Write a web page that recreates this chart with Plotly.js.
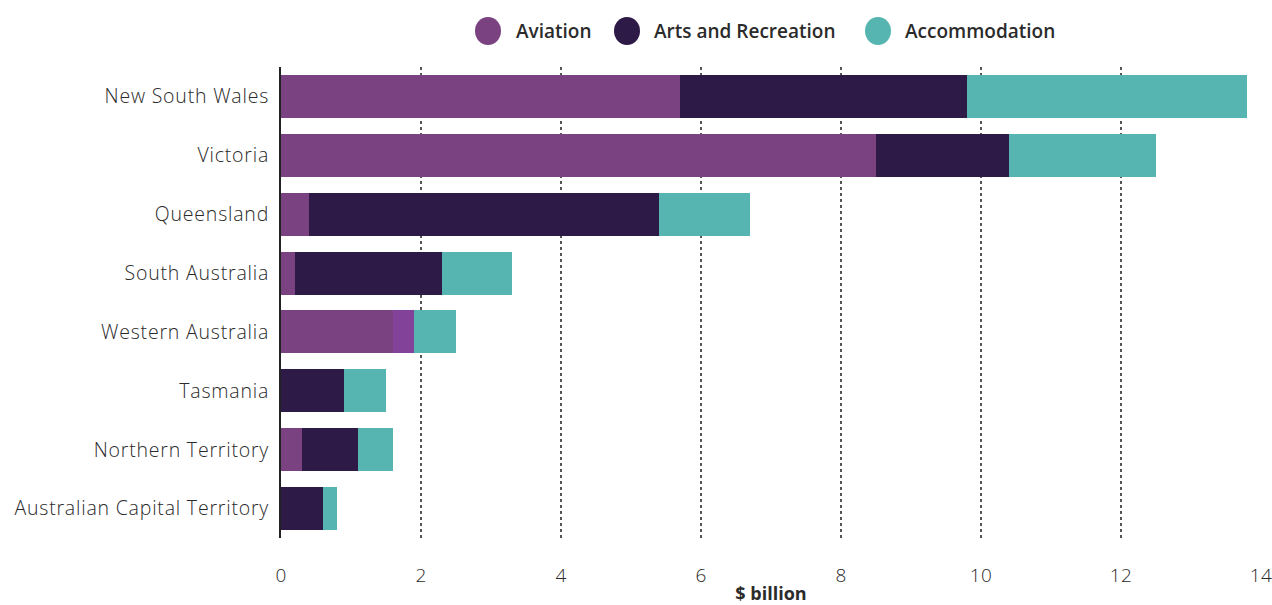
<!DOCTYPE html>
<html>
<head>
<meta charset="utf-8">
<script src="https://cdn.plot.ly/plotly-3.0.1.min.js"></script>
<style>html,body{margin:0;padding:0;background:#fff;}#chart{width:1272px;height:605px;}
.ytick text{letter-spacing:0.8px;}
.xtick text{letter-spacing:0.4px;}
</style>
</head>
<body>
<div id="chart"></div>
<script>
const states = ["New South Wales","Victoria","Queensland","South Australia","Western Australia","Tasmania","Northern Territory","Australian Capital Territory"];
const aviation = [5.7, 8.5, 0.4, 0.2, 1.6, 0.0, 0.3, 0.0];
const artsRecreation = [4.1, 1.9, 5.0, 2.1, 0.3, 0.9, 0.8, 0.6];
const accommodation = [4.0, 2.1, 1.3, 1.0, 0.6, 0.6, 0.5, 0.2];
const seriesNames = ["Aviation","Arts and Recreation","Accommodation"];
const colors = ["#7b4282","#2e1a47","#56b5b1"];
const artsColors = states.map(s => s === "Western Australia" ? "#83429a" : colors[1]);

const font = "'Open Sans', sans-serif";
const data = [
  {type:"bar", orientation:"h", y:states, x:aviation, name:seriesNames[0], marker:{color:colors[0]}, showlegend:false},
  {type:"bar", orientation:"h", y:states, x:artsRecreation, name:seriesNames[1], marker:{color:artsColors}, showlegend:false},
  {type:"bar", orientation:"h", y:states, x:accommodation, name:seriesNames[2], marker:{color:colors[2]}, showlegend:false}
];

// custom legend (circles + labels) placed in paper coordinates
const W = 1272, H = 605, ML = 281, MR = 11, MT = 67, MB = 67;
const PW = W - ML - MR, PH = H - MT - MB;
const px = v => (v - ML) / PW;
const py = v => (H - MB - v) / PH;
const legendDots = [488, 627, 878];
const legendText = [514, 652, 903];
const legendY = 31;
const shapes = [], annotations = [];
seriesNames.forEach((n,i)=>{
  shapes.push({type:"circle", xref:"paper", yref:"paper",
    x0:px(legendDots[i]-13), x1:px(legendDots[i]+13), y0:py(legendY+14), y1:py(legendY-14),
    fillcolor:colors[i], line:{width:0}});
  annotations.push({xref:"paper", yref:"paper", x:px(legendText[i]), y:py(legendY), xanchor:"left", yanchor:"middle",
    text:n, showarrow:false, font:{family:font, size:19, color:"#2b2b2b", weight:600}});
});

const layout = {
  width:W, height:H,
  margin:{l:ML, r:MR, t:MT, b:MB},
  barmode:"stack",
  bargap:0.27,
  paper_bgcolor:"#fff", plot_bgcolor:"#fff",
  font:{family:font, color:"#2a2a2a", size:19},
  showlegend:false,
  shapes:shapes,
  annotations:annotations,
  xaxis:{
    range:[0,14], dtick:2, tick0:0, showgrid:true, gridcolor:"#555", griddash:"dot", gridwidth:1.5,
    zeroline:false, showline:false, ticks:"", ticklabelstandoff:24, ticklabeloverflow:"allow",
    tickfont:{family:font, size:19, color:"#2a2a2a", weight:300},
    title:{text:"$ billion", font:{family:font, size:18, color:"#2b2b2b", weight:700}, standoff:8},
    fixedrange:true
  },
  yaxis:{
    autorange:"reversed", showgrid:false, zeroline:false, showline:true, linecolor:"#222", linewidth:2,
    ticks:"", ticklabelstandoff:6, tickfont:{family:font, size:19.5, color:"#2a2a2a", weight:300}, fixedrange:true
  }
};
Plotly.newPlot("chart", data, layout, {displayModeBar:false, staticPlot:true});
</script>
</body>
</html>
